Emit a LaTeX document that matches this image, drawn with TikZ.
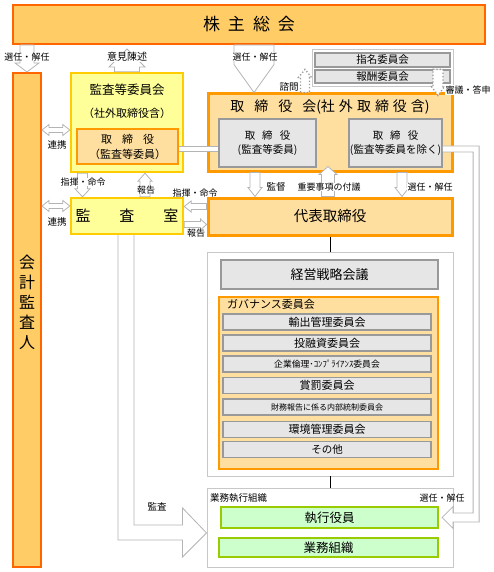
\documentclass[tikz,border=0pt]{standalone}
\usepackage{fontspec}
\setmainfont{Noto Sans CJK JP}
\usepackage{tikz}
\usetikzlibrary{calc,positioning}

\definecolor{kabuFill}{HTML}{FFCC66}
\definecolor{kabuLine}{HTML}{FF6600}
\definecolor{peachFill}{HTML}{FFDF9F}
\definecolor{peachLine}{HTML}{FF9900}
\definecolor{yelFill}{HTML}{FFFF99}
\definecolor{yelLine}{HTML}{FFCC00}
\definecolor{grayFill}{HTML}{E6E6E6}
\definecolor{grayLine}{HTML}{999999}
\definecolor{greenFill}{HTML}{CCFFCC}
\definecolor{greenLine}{HTML}{99CC00}
\definecolor{grpLine}{HTML}{C8C8C8}
\definecolor{arrLine}{HTML}{B4B4B4}

\def\jf#1{\fontsize{#1}{#1}\selectfont}
% block arrow: from, to, (shaft half width : head half width : head length)
\def\blk[#1](#2)(#3)(#4:#5:#6){\coordinate (bh) at ($(#3)!#6pt!(#2)$);
	\draw[#1] ($(#2)!#4pt!90:(#3)$) -- ($(bh)!#4pt!90:(#3)$) -- ($(bh)!#5pt!90:(#3)$) -- (#3) -- ($(bh)!#5pt!-90:(#3)$) -- ($(bh)!#4pt!-90:(#3)$) -- ($(#2)!#4pt!-90:(#3)$) -- cycle;}
\def\dblk[#1](#2)(#3)(#4:#5:#6){\coordinate (bh) at ($(#3)!#6pt!(#2)$);\coordinate (ba) at ($(#2)!#6pt!(#3)$);
	\draw[#1] ($(ba)!#4pt!90:(#3)$) -- ($(bh)!#4pt!90:(#3)$) -- ($(bh)!#5pt!90:(#3)$) -- (#3) -- ($(bh)!#5pt!-90:(#3)$) -- ($(bh)!#4pt!-90:(#3)$) -- ($(ba)!#4pt!-90:(#3)$) -- ($(ba)!#5pt!-90:(#3)$) -- (#2) -- ($(ba)!#5pt!90:(#3)$) -- cycle;}

\tikzset{
	box/.style={draw, inner sep=0pt, align=center},
	kabubox/.style={box, fill=kabuFill, draw=kabuLine, line width=2pt},
	peachbox/.style={box, fill=peachFill, draw=peachLine, line width=2.5pt},
	yelbox/.style={box, fill=yelFill, draw=yelLine, line width=2.4pt},
	graybox/.style={box, fill=grayFill, draw=grayLine, line width=1.6pt},
	itembox/.style={graybox, line width=1.3pt, minimum width=208pt, minimum height=16pt},
	greenbox/.style={box, fill=greenFill, draw=greenLine, line width=2.2pt},
	grpbox/.style={box, fill=white, draw=grpLine, line width=0.9pt},
	blkarr/.style={draw=arrLine, fill=white, line width=0.8pt},
	dotarr/.style={draw=grayLine, fill=white, line width=1.3pt, dotted},
	dblline/.style={draw=arrLine, line width=0.8pt, double=white, double distance=4.6pt},
	lbl/.style={fill=white, inner sep=0.3pt, font=\jf{9}},
}

\begin{document}
\begin{tikzpicture}[x=1pt,y=-1pt]
	%%%%% START %%%%%
	\useasboundingbox (0,0) rectangle (493,572);
	
	\node[grpbox, minimum width=141pt, minimum height=37pt] (iingrp) at (382.5,67.5) {};
	\node[grpbox, minimum width=246pt, minimum height=224pt] (keieigrp) at (330,364) {};
	\node[grpbox, minimum width=246pt, minimum height=79pt] (gyomugrp) at (330,527.5) {};
	
	\node[kabubox, minimum width=472pt, minimum height=39pt, font=\jf{17}] (kabu) at (249,24.5) {株\hspace{8pt}主\hspace{8pt}総\hspace{8pt}会};
	\node[kabubox, minimum width=28pt, minimum height=494pt] (kaikei) at (27,320) {};
	\node[align=center, inner sep=0pt, font=\fontsize{16}{20}\selectfont] (kaikeiT) at (27,302) {会\\計\\監\\査\\人};
	
	\node[yelbox, minimum width=112pt, minimum height=99pt] (iinkai) at (127,122.5) {};
	\node[font=\jf{12.5}] (iinkaiT) at (127,90) {監査等委員会};
	\node[font=\jf{11}] (iinkaiS) at (127,113) {（社外取締役含）};
	\node[peachbox, minimum width=101pt, minimum height=35pt, font=\fontsize{11}{15}\selectfont] (toriin) at (127.5,146.5) {取\hspace{10pt}締\hspace{10pt}役\\（監査等委員）};
	\node[yelbox, minimum width=112pt, minimum height=36pt, font=\jf{15}] (ks) at (127,216) {監\hspace{29pt}査\hspace{29pt}室};
	
	\node[peachbox, line width=3pt, minimum width=244pt, minimum height=77pt] (torikai) at (330,132.5) {};
	\node[font=\jf{14}] (torikaiT) at (330,107) {取\hspace{10pt}締\hspace{10pt}役\hspace{10pt}会(社\hspace{4pt}外\hspace{4pt}取\hspace{4pt}締\hspace{4pt}役\hspace{4pt}含)};
	\node[graybox, minimum width=97pt, minimum height=48pt, font=\fontsize{10.5}{14}\selectfont] (torikan) at (267.5,143) {取\hspace{7pt}締\hspace{7pt}役\\(監査等委員)};
	\node[graybox, minimum width=93pt, minimum height=48pt, font=\fontsize{10.5}{14}\selectfont] (toriex) at (395.5,143) {取\hspace{7pt}締\hspace{7pt}役\\(監査等委員を除く)};
	\node[peachbox, line width=3pt, minimum width=244pt, minimum height=37pt, font=\jf{14.5}] (daihyo) at (330,216.5) {代表取締役};
	
	\node[graybox, line width=1.2pt, minimum width=135pt, minimum height=14pt, font=\jf{10.5}] (shimei) at (382.5,60) {指名委員会};
	\node[graybox, line width=1.2pt, minimum width=135pt, minimum height=13pt, font=\jf{10.5}] (hoshu) at (382.5,76.5) {報酬委員会};
	
	\node[graybox, minimum width=217pt, minimum height=29pt, font=\jf{13}] (keiei) at (329.5,274.5) {経営戦略会議};
	\node[peachbox, line width=2pt, minimum width=219pt, minimum height=172pt] (gov) at (328.5,383) {};
	\node[anchor=west, inner sep=0pt, font=\jf{11}] (govT) at (227,304) {ガバナンス委員会};
	\node[itembox, font=\jf{11}] (yushutsu) at (327,322) {輸出管理委員会};
	\node[itembox, font=\jf{11}] (toyushi) at (327,343) {投融資委員会};
	\node[itembox, font=\jf{8.8}] (rinri) at (327,364) {企業倫理･ｺﾝﾌﾟﾗｲｱﾝｽ委員会};
	\node[itembox, font=\jf{11}] (shobatsu) at (327,385.5) {賞罰委員会};
	\node[itembox, font=\jf{8}] (zaimu) at (327,407) {財務報告に係る内部統制委員会};
	\node[itembox, font=\jf{11}] (kankyo) at (327,429.5) {環境管理委員会};
	\node[itembox, font=\jf{10.5}] (sonota) at (327,449.5) {その他};
	
	\node[anchor=west, inner sep=0pt, font=\jf{9.5}] (gyomuT) at (210,498) {業務執行組織};
	\node[greenbox, minimum width=217pt, minimum height=21pt, font=\jf{12.5}] (shikko) at (329.5,517.5) {執行役員};
	\node[greenbox, minimum width=219pt, minimum height=19pt, font=\jf{12.5}] (gyomu) at (328.5,547.5) {業務組織};
	
	\draw[line width=0.8pt] (daihyo.south) -- (keieigrp.north);
	\draw[line width=0.8pt] (keieigrp.south) -- (gyomugrp.north);
	
	% double line connectors
	\draw[dblline] ($(toriin.east)+(0,2.5)$) -- ($(torikan.west |- toriin.east)+(0,2.5)$);
	\coordinate (rtip) at ($(shikko.east)+(3,0)$);
	\coordinate (rst) at ($(toriex.east)+(0,6)$);
	\draw[blkarr] ($(rst)+(0,-3)$) -| ($(rtip)+(37,4.5)$) -- ($(rtip)+(11,4.5)$) -- ($(rtip)+(11,11)$) -- (rtip) -- ($(rtip)+(11,-11)$) -- ($(rtip)+(11,-4.5)$) -- ($(rtip)+(31,-4.5)$) |- ($(rst)+(0,3)$);
	\coordinate (ltip) at ($(gyomugrp.west)+(0,5.5)$);
	\draw[blkarr] ($(ks.south)+(-9,0)$) |- ($(ltip)+(-24,7)$) -- ($(ltip)+(-24,24)$) -- (ltip) -- ($(ltip)+(-24,-25)$) -- ($(ltip)+(-24,-8)$) -| ($(ks.south)+(7,0)$);
	
	% block arrows
	\blk[blkarr](kabu.south -| kaikei)(kaikei.north)(7:12:9)
	\coordinate (iken) at ($(kabu.south -| iinkai)+(0,4)$);
	\blk[blkarr](iinkai.north)(iken)(12.5:18:18)
	\coordinate (sen1) at ($(kabu.south)+(5,0)$);
	\blk[blkarr](sen1)(sen1 |- torikai.north)(20:20:28)
	\coordinate (shimon) at ($(torikai.north)+(-25,0)$);
	\blk[dotarr](shimon)(shimon |- hoshu.north)(4.5:6.5:8)
	\coordinate (shingi) at ($(torikai.north)+(108,3)$);
	\blk[dotarr](shingi |- hoshu.north)(shingi)(5:6.5:9)
	
	\coordinate (renkei1) at ($(iinkai.west)+(0,7.5)$);
	\dblk[blkarr](kaikei.east |- renkei1)(renkei1)(2.5:5.5:7)
	\coordinate (renkei2) at ($(ks.west)+(0,-10)$);
	\dblk[blkarr](kaikei.east |- renkei2)(renkei2)(2.5:5.5:7)
	
	\coordinate (shiki1) at ($(iinkai.south)+(-44.5,0)$);
	\blk[blkarr](shiki1)(shiki1 |- ks.north)(5:7.5:8)
	\coordinate (hokoku1) at ($(ks.north)+(18,0)$);
	\blk[blkarr](hokoku1)(hokoku1 |- iinkai.south)(5:7:8)
	\coordinate (shiki2) at ($(daihyo.west)+(0,-10)$);
	\blk[blkarr](shiki2)(ks.east |- shiki2)(3:5.5:7)
	\coordinate (hokoku2) at ($(ks.east)+(0,8.5)$);
	\blk[blkarr](hokoku2)(daihyo.west |- hokoku2)(3:5.5:6)
	
	\coordinate (kantoku) at ($(torikai.south)+(-75,0)$);
	\blk[blkarr](kantoku)(kantoku |- daihyo.north)(5:7:9)
	\coordinate (juyo) at ($(torikai.south)+(-2,-6)$);
	\blk[blkarr](juyo |- daihyo.north)(juyo)(6.5:9:8)
	\coordinate (sen2) at ($(torikai.south)+(72,0)$);
	\blk[blkarr](sen2)(sen2 |- daihyo.north)(5:7:9)
	
	% labels
	\node[lbl] (lSen1) at (27,57) {選任・解任};
	\node[lbl, font=\jf{10}] (lIken) at (127,57) {意見陳述};
	\node[lbl] (lSen2) at (255,57) {選任・解任};
	\node[lbl, font=\jf{9.5}] (lShimon) at (289,87) {諮問};
	\node[lbl] (lShingi) at (468,90) {審議・答申};
	\node[lbl, font=\jf{9.5}] (lRenkei1) at (57,145) {連携};
	\node[lbl, font=\jf{9.5}] (lRenkei2) at (57,222) {連携};
	\node[lbl] (lShiki1) at (83,182) {指揮・命令};
	\node[lbl] (lHokoku1) at (146,190) {報告};
	\node[lbl] (lShiki2) at (195,193) {指揮・命令};
	\node[lbl] (lHokoku2) at (196,233) {報告};
	\node[lbl, font=\jf{9.5}] (lKantoku) at (276,187) {監督};
	\node[lbl] (lJuyo) at (329,187) {重要事項の付議};
	\node[lbl] (lSen3) at (430,187) {選任・解任};
	\node[lbl, font=\jf{9.5}] (lKansa) at (157,507) {監査};
	\node[lbl, fill=none] (lSen4) at (442,498) {選任・解任};
	
	%%%%% END %%%%%
\end{tikzpicture}
\end{document}
